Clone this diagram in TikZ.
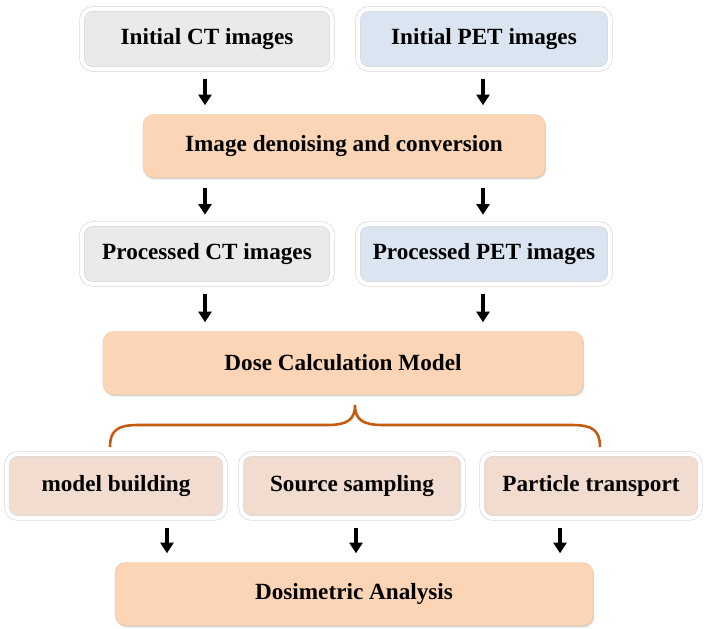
\documentclass[tikz,border=0pt]{standalone}
\usepackage{fontspec}
\setmainfont{Liberation Serif}
\usetikzlibrary{shadows,arrows.meta,calc}
\definecolor{ctGray}{HTML}{EAEAEA}
\definecolor{petBlue}{HTML}{DBE5F1}
\definecolor{peach}{HTML}{FBD5B5}
\definecolor{paleRose}{HTML}{F2DCCF}
\definecolor{braceOrange}{HTML}{C55A11}

\begin{document}
\begin{tikzpicture}[x=0.03cm,y=-0.03cm,font=\fontsize{19.8}{24}\selectfont\bfseries]
    \tikzset{
        ringbox/.style={
            draw=gray!35,
            line width=0.5pt,
            double=white,
            double distance=3.5pt,
            rounded corners=9pt,
            drop shadow={shadow xshift=0.6pt,shadow yshift=-1.2pt,fill=gray!45},
            minimum height=1.8cm,
            align=center
        },
        stagebox/.style={
            fill=peach,
            draw=peach!80!brown,
            line width=0.4pt,
            rounded corners=9pt,
            drop shadow={shadow xshift=1pt,shadow yshift=-1.6pt,fill=gray!60},
            minimum height=1.89cm,
            align=center
        },
        flow/.style={
            -{Triangle[width=11pt,length=9pt]},
            line width=2.8pt,
            shorten <=0.3cm,
            shorten >=0.27cm
        }
    }
    \useasboundingbox (0,0) rectangle (709,629);

    % Input images
    \node[ringbox,fill=ctGray,minimum width=7.5cm] (ctInit) at (207,39) {Initial CT images};
    \node[ringbox,fill=petBlue,minimum width=7.56cm] (petInit) at (484,39) {Initial PET images};

    % Preprocessing
    \node[stagebox,minimum width=12.06cm] (denoise) at (344,146) {Image denoising and conversion};

    \draw[flow] (ctInit.south -| 205,0) -- (denoise.north -| 205,0);
    \draw[flow] (petInit.south -| 483,0) -- (denoise.north -| 483,0);

    % Processed images
    \node[ringbox,fill=ctGray,minimum width=7.5cm] (ctProc) at (207,254) {Processed CT images};
    \node[ringbox,fill=petBlue,minimum width=7.56cm] (petProc) at (484,254) {Processed PET images};

    \draw[flow] (denoise.south -| 205,0) -- (ctProc.north -| 205,0);
    \draw[flow] (denoise.south -| 483,0) -- (petProc.north -| 483,0);

    % Dose model
    \node[stagebox,minimum width=14.4cm] (dose) at (343,363) {Dose Calculation Model};

    \draw[flow] (ctProc.south -| 205,0) -- (dose.north -| 205,0);
    \draw[flow] (petProc.south -| 483,0) -- (dose.north -| 483,0);

    %% Brace
    \coordinate (braceTip) at (355,405);
    \draw[braceOrange,line width=2.2pt]
        (110,447) .. controls (110,430) and (118,425) .. (138,425)
        -- (327,425) .. controls (347,425) and (355,420) .. (braceTip)
        .. controls (355,420) and (363,425) .. (383,425)
        -- (572,425) .. controls (592,425) and (600,430) .. (600,447);

    %% Model components
    \node[ringbox,fill=paleRose,minimum width=6.54cm,minimum height=1.92cm] (build) at (116,486) {model building};
    \node[ringbox,fill=paleRose,minimum width=6.66cm,minimum height=1.92cm] (sample) at (352,486) {Source sampling};
    \node[ringbox,fill=paleRose,minimum width=6.54cm,minimum height=1.92cm] (transport) at (591,486) {Particle transport};

    % Analysis
    \node[stagebox,minimum width=14.34cm] (analysis) at (354,594) {Dosimetric Analysis};

    \draw[flow] (build.south -| 167,0) -- (analysis.north -| 167,0);
    \draw[flow] (sample.south -| 356,0) -- (analysis.north -| 356,0);
    \draw[flow] (transport.south -| 560,0) -- (analysis.north -| 560,0);
\end{tikzpicture}
\end{document}
